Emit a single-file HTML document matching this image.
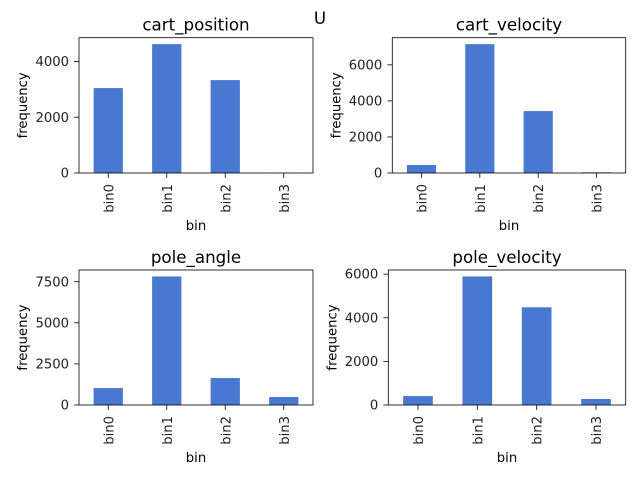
<!DOCTYPE html>
<html><head><meta charset="utf-8"><style>
html,body{margin:0;padding:0;background:#fff}
svg{display:block;font-family:"DejaVu Sans","Liberation Sans",sans-serif}
</style></head><body>
<svg id="fig" width="640" height="480" viewBox="0 0 640 480" xmlns="http://www.w3.org/2000/svg">
<rect width="640" height="480" fill="#fff"/>
<text x="320" y="24" font-size="16.7" text-anchor="middle" fill="#000">U</text>
</svg>
<script>
const categories = ["bin0","bin1","bin2","bin3"];
const titles = ["cart_position","cart_velocity","pole_angle","pole_velocity"];
const cartPosition = [3044, 4620, 3330, 8];
const cartVelocity = [443, 7150, 3435, 40];
const poleAngle = [1030, 7820, 1640, 485];
const poleVelocity = [410, 5895, 4480, 275];
const ticksCartPosition = [0, 2000, 4000];
const ticksCartVelocity = [0, 2000, 4000, 6000];
const ticksPoleAngle = [0, 2500, 5000, 7500];
const ticksPoleVelocity = [0, 2000, 4000, 6000];

const NS = "http://www.w3.org/2000/svg";
const svg = document.getElementById("fig");
function mk(tag, attrs, parent){
  const e = document.createElementNS(NS, tag);
  for (const k in attrs) e.setAttribute(k, attrs[k]);
  (parent||svg).appendChild(e);
  return e;
}
const panels = [
  {vals: cartPosition, ticks: ticksCartPosition, l:79, r:313, t:37.7, b:173},
  {vals: cartVelocity, ticks: ticksCartVelocity, l:392.3, r:625.7, t:37.7, b:173},
  {vals: poleAngle, ticks: ticksPoleAngle, l:79, r:313, t:270, b:405},
  {vals: poleVelocity, ticks: ticksPoleVelocity, l:388.3, r:625.7, t:270, b:405}
];
panels.forEach((p, i) => {
  const g = mk("g", {});
  
  
  const ymax = Math.max(...p.vals) * 1.05;
  const y = v => p.b - v / ymax * (p.b - p.t);
  const step = (p.r - p.l) / categories.length;
  const x = k => p.l + step * (k + 0.5);
  p.vals.forEach((v, k) => {
    const bar = mk("rect", {x: x(k) - step*0.25, y: y(v), width: step*0.5, height: p.b - y(v), fill: "#4878d0"}, g);
    
    
  });
  const frame = mk("rect", {x:p.l, y:p.t, width:p.r-p.l, height:p.b-p.t, fill:"none", stroke:"#000", "stroke-width":0.8}, g);
  
  
  p.ticks.forEach(tv => {
    mk("line", {x1:p.l-4.9, x2:p.l, y1:y(tv), y2:y(tv), stroke:"#000", "stroke-width":0.8}, g);
    const tl = mk("text", {x:p.l-10, y:y(tv)+4.6, "font-size":13.2, "text-anchor":"end", fill:"#222"}, g);
    tl.textContent = tv;
    
    
  });
  categories.forEach((c, k) => {
    mk("line", {x1:x(k), x2:x(k), y1:p.b, y2:p.b+4.9, stroke:"#000", "stroke-width":0.8}, g);
    const tl = mk("text", {x:0, y:0, "font-size":13.2, "text-anchor":"end", fill:"#222",
      transform:`translate(${x(k)+5},${p.b+11}) rotate(-90)`}, g);
    tl.textContent = c;
    
    
  });
  const tt = mk("text", {x:(p.l+p.r)/2, y:p.t-7, "font-size":16.7, "text-anchor":"middle", fill:"#000"}, g);
  tt.textContent = titles[i];
  
  
  const xl = mk("text", {x:(p.l+p.r)/2, y:p.b+57, "font-size":13.2, "text-anchor":"middle", fill:"#000"}, g);
  xl.textContent = "bin";
  
  
  const yl = mk("text", {x:0, y:0, "font-size":13.2, "text-anchor":"middle", fill:"#000",
    transform:`translate(${p.l-52},${(p.t+p.b)/2}) rotate(-90)`}, g);
  yl.textContent = "frequency";
  
  
});
</script>
</body></html>
